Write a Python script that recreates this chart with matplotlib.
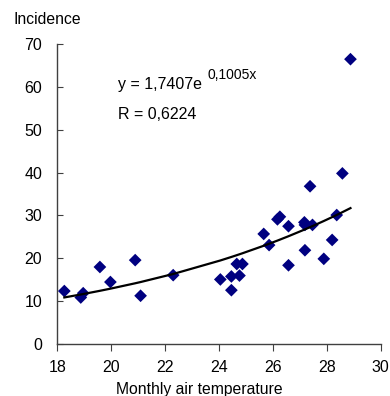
import numpy as np
import matplotlib.pyplot as plt

plt.rcParams['font.family'] = ['Liberation Sans', 'DejaVu Sans']

# monthly air temperature vs incidence
temperature = [18.26, 18.87, 18.96, 19.58, 19.97, 20.89, 21.09, 22.30, 24.05, 24.46,
               24.46, 24.66, 24.76, 24.87, 25.66, 25.86, 26.17, 26.26, 26.58, 26.58,
               27.17, 27.19, 27.19, 27.38, 27.47, 27.89, 28.20, 28.37, 28.58, 28.88]
incidence = [12.4, 10.9, 11.9, 18.0, 14.5, 19.6, 11.3, 16.1, 15.1, 15.8,
             12.6, 18.7, 16.0, 18.7, 25.7, 23.1, 29.1, 29.7, 27.5, 18.4,
             28.4, 27.8, 21.9, 36.8, 27.8, 19.9, 24.3, 30.1, 39.8, 66.4]

# exponential trendline y = a * exp(b x)
fit_a = 1.7407
fit_b = 0.1005
fit_r = 0.6224

x_ticks = [18, 20, 22, 24, 26, 28, 30]
y_ticks = [0, 10, 20, 30, 40, 50, 60, 70]

fig = plt.figure(figsize=(3.9, 3.96), dpi=100)
ax = fig.add_axes([0.147, 0.1306, 0.829, 0.759])

ax.scatter(temperature, incidence, marker='D', s=42, color='#000080',
           edgecolors='none', zorder=3)

xs = np.sort(np.array(temperature))
ax.plot(xs, fit_a * np.exp(fit_b * xs), color='black', linewidth=1.6, zorder=4)

ax.set_xlim(18, 30)
ax.set_ylim(0, 70)
ax.set_xticks(x_ticks)
ax.set_yticks(y_ticks)
for s in ['top', 'right']:
    ax.spines[s].set_visible(False)
for s in ['left', 'bottom']:
    ax.spines[s].set_color('#404040')
    ax.spines[s].set_linewidth(1.0)
ax.tick_params(axis='y', direction='in', length=4, pad=11, labelsize=11.5,
               color='#404040')
ax.tick_params(axis='x', direction='out', length=5, pad=6, labelsize=11.5,
               color='#404040')

fig.text(13.3 / 390, 1 - 24 / 396, 'Incidence', fontsize=11.3, va='baseline')
fig.text(199 / 390, 1 - 394 / 396, 'Monthly air temperature', fontsize=11.3,
         ha='center', va='baseline')

eq_main = 'y = ' + f'{fit_a:.4f}'.replace('.', ',') + 'e'
eq_sup = f'{fit_b:.4f}'.replace('.', ',') + 'x'
fig.text(118 / 390, 1 - 89.3 / 396, eq_main, fontsize=11.5, va='baseline')
fig.text(207.3 / 390, 1 - 79 / 396, eq_sup, fontsize=10, va='baseline')
fig.text(118 / 390, 1 - 119.3 / 396, 'R = ' + f'{fit_r:.4f}'.replace('.', ','),
         fontsize=11.5, va='baseline')

fig.savefig('out.png', dpi=100)
